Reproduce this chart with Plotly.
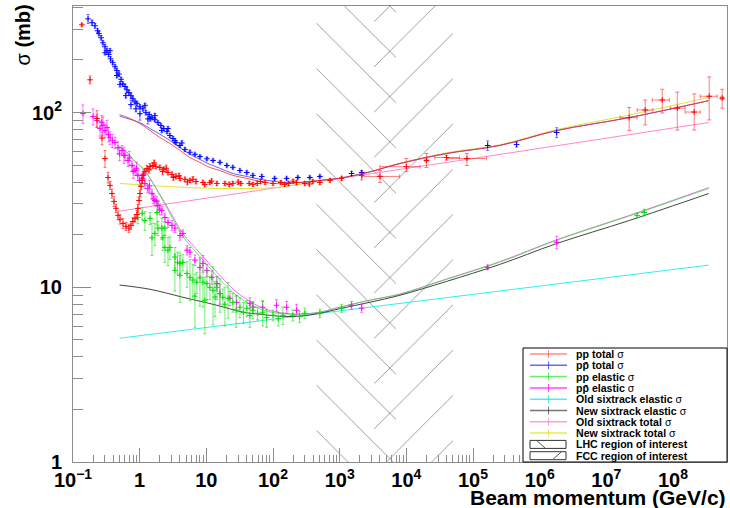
import plotly.graph_objects as go

# ---------------- data ----------------
# pp total cross section (red)
pp_tot_p = [0.136, 0.18, 0.229, 0.272, 0.302, 0.335, 0.359, 0.384, 0.412, 0.441,
            0.473, 0.507, 0.562, 0.624, 0.69, 0.74, 0.79, 0.85, 0.91, 0.94,
            0.98, 1.01, 1.05, 1.09, 1.12, 1.2, 1.29, 1.43, 1.58, 1.75,
            2.01, 2.3, 2.66, 3.05, 3.5, 4.02, 4.78, 5.68, 7.0, 8.9,
            11.3, 14.4, 19, 25, 33, 44, 58, 76, 100, 131,
            172, 226, 300, 395, 505, 717, 1070, 2140,
            1.38, 1.65, 2.2, 2.5, 3.2, 3.9, 5.2, 6.3, 9.5, 12, 22, 30, 50, 65, 150, 200, 350]
pp_tot_sig = [318, 154, 92.5, 71.4, 54.6, 42.5, 38.3, 34.4, 31.0, 28.3,
              25.8, 24.5, 23.2, 22.3, 21.8, 22.6, 23.8, 24.8, 26.1, 28.3,
              31.4, 34.4, 37.8, 40.9, 43.7, 46.0, 47.9, 49.1, 49.8, 49.1,
              48.5, 47.3, 45.4, 44.3, 43.1, 42.0, 41.5, 40.9, 40.3, 39.8,
              39.8, 39.3, 39.3, 39.3, 39.3, 39.3, 39.3, 39.8, 39.3, 39.8,
              39.3, 39.8, 39.3, 40.3, 39.8, 40.9, 42.0, 43.7,
              47, 51.5, 46, 48, 42.5, 43.5, 40, 41.5, 38.8, 40.5, 38.8, 40, 38.8, 40.3, 38.8, 40.5, 39]
pp_tot_err = [6, 8, 10, 6, 6, 3, 2, 2, 2, 1.5,
              1.5, 1.5, 1.5, 1.2, 1.2, 1.2, 1.2, 1.2, 1.5, 1.5,
              1.5, 1.5, 1.5, 1.5, 1.5, 1.5, 2, 2, 2, 1.5,
              1.5, 1.5, 1.5, 1.5, 1.5, 1.2, 1.2, 1.2, 1.2, 1.2,
              1.0, 1.0, 1.0, 1.0, 1.0, 1.0, 1.0, 1.0, 1.0, 1.0,
              1.0, 1.0, 1.0, 1.0, 1.0, 1.0, 1.2, 2.5,
              2, 2, 2, 2, 1.5, 1.5, 1.5, 1.5, 1.2, 1.2, 1.2, 1.2, 1, 1, 1, 1, 1]

# pp total, high-energy points with visible x/y ranges (red)
pp_hi_p = [4020, 1.0e4, 2.0e4, 4.0e4, 8.1e4, 2.2e7, 3.83e7, 6.9e7, 1.16e8, 2.08e8, 3.49e8, 5.47e8]
pp_hi_sig = [43.1, 49.0, 53.2, 55.3, 54.6, 93.6, 103.5, 118, 106, 100.7, 124, 121]
pp_hi_sig_up = [46.6, 54.6, 58.3, 57.0, 58.3, 107, 118, 136, 131, 128, 160, 136]
pp_hi_sig_lo = [39.8, 46.0, 48.5, 53.5, 49.8, 78.9, 84.9, 99.5, 79.4, 79.4, 90.7, 106]
pp_hi_p_lo = [2150, 4020, 1.9e4, 2.67e4, 4.0e4, 1.61e7, 2.9e7, 4.87e7, 9.1e7, 1.52e8, 2.56e8, 5.2e8]
pp_hi_p_hi = [7940, 1.6e4, 2.1e4, 6.3e4, 1.6e5, 2.9e7, 5.0e7, 8.8e7, 1.52e8, 2.56e8, 4.6e8, 5.7e8]

# pbar-p total cross section (blue)
ppb_tot_p = [0.168, 0.193, 0.214, 0.234, 0.245, 0.264, 0.281, 0.302, 0.323, 0.343,
             0.366, 0.394, 0.427, 0.455, 0.49, 0.526, 0.56, 0.603, 0.645, 0.69,
             0.74, 0.79, 0.85, 0.91, 1.01, 1.12, 1.24, 1.39, 1.53, 1.69,
             1.88, 2.08, 2.3, 2.57, 2.84, 3.16, 3.5, 4.02, 4.78, 5.68,
             6.75, 8.02, 10.2, 12.6, 16, 20.3, 25, 31.9, 40.5, 50,
             68, 106, 160, 236, 357, 505, 1510, 2140, 1.66e5, 4.5e5, 1.8e6,
             0.302, 0.359, 0.455, 0.507, 0.62, 0.74, 0.88, 1.01, 1.2, 1.33,
             1.43, 1.69, 2.15, 2.66, 3.38, 4.3]
ppb_tot_sig = [344, 327, 314, 294, 283, 268, 251, 238, 226, 215,
               203, 193, 183, 174, 166, 155, 146, 141, 135, 130,
               125, 120, 115, 113, 108, 105, 99.9, 97.6, 93.5, 91,
               87.6, 84.3, 81, 77.8, 73.9, 71, 67.3, 64.8, 61.5, 59.3,
               57.7, 56, 54.4, 53.2, 51.9, 49.8, 48.6, 46.6, 45.4, 43.7,
               43.1, 42, 42, 42.5, 42.5, 43.1, 44.8, 45.4, 64.8, 65.6, 76.9,
               220, 226, 163, 145, 125, 111, 105, 98.5, 110, 92,
               92.3, 96, 79, 81, 69, 67]
ppb_tot_err = [20, 12, 10, 8, 8, 8, 7, 7, 6, 6,
               6, 5, 5, 5, 5, 4, 4, 4, 4, 4,
               4, 3, 3, 3, 3, 3, 3, 3, 2, 2,
               2, 2, 2, 2, 2, 2, 1.5, 1.5, 1.5, 1.5,
               1, 1, 1, 1, 1, 1, 1, 1, 1, 1,
               1, 0.8, 0.8, 0.8, 0.8, 0.8, 1.2, 1.2, 4, 2, 5,
               6, 6, 5, 5, 4, 6, 4, 8, 3, 6,
               3, 3, 2, 2, 2, 2]

# pp elastic cross section (green)
pp_el_p = [0.94, 1.09, 1.2, 1.43, 1.53, 1.69, 1.82, 1.88, 2.15, 2.23,
           2.39, 2.66, 2.84, 3.38, 4.02, 4.45, 4.02, 5.13, 5.68, 6.28,
           7.2, 8.02, 8.9, 10.2, 11.3, 12.6, 14.4, 16, 17.7, 21.2,
           25, 31.9, 40.5, 50, 58.8, 70, 100, 141, 198, 300,
           505, 1070, 2.9e7, 3.7e7,
           2.39, 3.38, 3.7, 6.75, 9.5, 13.5, 19, 28, 36, 45, 80, 120, 250]
pp_el_sig = [25.1, 26.5, 24.1, 24.8, 19.2, 20.3, 26.8, 21.8, 21.8, 19.2,
             21.8, 16.3, 16.9, 14.9, 13.7, 13.9, 11.7, 12.0, 11.4, 11.0,
             10.7, 11.3, 10.7, 10.5, 10.0, 9.6, 10.0, 9.2, 8.77, 8.65,
             8.2, 7.69, 7.58, 7.39, 7.1, 7.2, 6.92, 6.92, 6.92, 7.1,
             7.1, 7.59, 25.8, 26.8,
             16.9, 12.5, 13.9, 8.9, 8.43, 8.8, 8.0, 7.4, 7.2, 6.9, 6.7, 6.6, 6.8]
pp_el_err = [2, 2, 3, 2, 4, 3, 4, 2, 3, 3,
             2, 3, 2.5, 2, 2, 1.5, 3.5, 2, 3, 2.5,
             1.5, 3.5, 3, 2, 1.5, 3.5, 1.5, 2, 1, 2,
             1, 1, 0.8, 0.8, 0.6, 1.2, 0.5, 0.8, 0.5, 0.5,
             0.4, 0.4, 0.8, 1.2,
             3, 3, 2, 3, 3, 2, 2, 1.5, 1, 1, 0.8, 0.6, 0.5]

# pbar-p elastic cross section (magenta)
ppb_el_p = [0.141, 0.229, 0.254, 0.281, 0.302, 0.323, 0.359, 0.427, 0.473, 0.544,
            0.603, 0.668, 0.767, 0.851, 0.94, 1.08, 1.2, 1.33, 1.53, 1.69,
            1.88, 2.15, 2.39, 2.66, 3.05, 3.38, 4.02, 4.45, 5.13, 5.68,
            6.75, 8.02, 8.9, 10.2, 12.1, 14.4, 16, 22.6, 28.5, 45.1,
            50, 70, 113, 160, 226, 1510, 2140, 1.66e5, 1.8e6,
            0.2, 0.27, 0.34, 0.39, 0.5, 0.58, 0.7, 0.8, 0.9, 1.0,
            1.15, 1.4, 1.6, 1.8, 2.0]
ppb_el_sig = [98.7, 90, 81.2, 84.3, 78.9, 82.3, 71.7, 67.3, 63, 60.7,
              56.8, 53.2, 49.8, 46.6, 43.7, 42, 39.3, 36.7, 34.4, 31.4,
              29.4, 27.5, 25.1, 23.5, 22.6, 21.8, 19.8, 20.3, 16.3, 15.9,
              14.3, 13, 13.7, 12.5, 11.4, 10.5, 9.2, 8.65, 8.2, 8.1,
              7.69, 7.69, 7.89, 7.69, 7.39, 7.89, 7.59, 13, 18.1,
              95, 88, 75, 69, 58, 57, 55, 46, 48, 41,
              44, 38, 32, 31, 28]
ppb_el_err = [12, 8, 8, 10, 7, 8, 6, 5, 5, 4,
              4, 4, 3, 3, 3, 2.5, 2.5, 2, 2, 2,
              2, 1.5, 1.5, 1.5, 1.5, 1.2, 1.2, 1, 1, 1,
              1, 1.5, 1.5, 1, 1, 1, 1.2, 0.8, 0.8, 0.6,
              0.6, 0.6, 0.6, 0.6, 0.6, 0.4, 0.4, 0.4, 1.5,
              10, 8, 7, 6, 5, 6, 5, 4, 4, 3,
              3, 3, 2, 2, 2]

# model curves
fit_p = [0.5, 0.668, 1.01, 1.43, 2.01, 2.84, 4.02, 5.68, 8.02, 11.3,
         16, 25, 40.5, 63.7, 100, 160, 253, 505, 1000, 2600,
         8000, 4.0e4, 2.5e5, 1.8e6, 2.2e7, 3.43e8]
fit_pp_tot = [97.4, 93.6, 86.5, 78.9, 72, 66.5, 60.7, 55.3, 51.8, 48.5,
              46.6, 43.7, 42, 40.4, 39.3, 39.3, 39.8, 40.9, 42, 45.4,
              51.2, 58.3, 64.8, 78.9, 93.6, 117]
fit_ppb_tot = [95.4, 92.3, 87.6, 81, 75.2, 69.2, 63, 57.7, 53.9, 50.5,
               48, 44.8, 43.1, 41.5, 40.5, 39.8, 39.8, 40.9, 42.2, 45.4,
               51, 58.3, 64.8, 78.9, 93.6, 117]

fit_el_p = [0.5, 0.668, 0.88, 1.12, 1.43, 2.01, 2.84, 4.45, 8.02, 14.4,
            25, 45.1, 81, 141, 253, 505, 1000, 2800, 8000, 4e4,
            2.5e5, 1.8e6, 2.9e7, 3.43e8]
fit_pp_el = [63.9, 58.3, 51.8, 47.9, 42, 33.6, 26.5, 19.6, 15, 11.6,
             9.36, 8.0, 7.29, 7.06, 7.02, 7.2, 7.69, 8.43, 9.12, 11.1,
             13.9, 18.6, 26.5, 36.8]
fit_ppb_el = [63.9, 58.3, 51.8, 47.9, 42, 34, 27.2, 20.3, 15.7, 12.2,
              9.8, 8.3, 7.45, 7.12, 7.02, 7.2, 7.69, 8.43, 9.15, 11.15,
              14.0, 18.7, 26.7, 37.2]

new_el_p = [0.5, 1.43, 4.45, 14.4, 35.6, 63.7, 127, 253, 505, 1000,
            2800, 8000, 4e4, 2.5e5, 1.8e6, 2.2e7, 3.43e8]
new_el_sig = [10.3, 9.74, 8.77, 7.89, 7.2, 7.01, 6.83, 6.83, 7.1, 7.54,
              8.2, 9.0, 10.8, 13.5, 17.8, 24.1, 34.4]

old_el_p = [0.5, 3.43e8]
old_el_sig = [5.11, 13.4]

new_tot_p = [0.5, 1.43, 5.68, 25, 100, 253, 505, 1000, 2600, 8000,
             4e4, 2.5e5, 1.8e6, 2.0e7, 3.43e8]
new_tot_sig = [39.3, 38.3, 37.2, 36.7, 37.2, 38.9, 40.4, 42, 45.4, 51.2,
               58.9, 65.4, 79.9, 96.1, 122]

old_tot_p = [0.5, 1.26e5, 3.43e8]
old_tot_sig = [27.3, 55.3, 87.7]

LHC_P = [450, 7000]
FCC_P = [3300, 50000]

x_tickvals = [1e-1, 1, 10, 1e2, 1e3, 1e4, 1e5, 1e6, 1e7, 1e8]
x_ticktext = ["10<sup>\u22121</sup>", "1", "10", "10<sup>2</sup>", "10<sup>3</sup>",
              "10<sup>4</sup>", "10<sup>5</sup>", "10<sup>6</sup>", "10<sup>7</sup>", "10<sup>8</sup>"]
y_tickvals = [1, 10, 100]
y_ticktext = ["1", "10", "10<sup>2</sup>"]

legend_names = ["pp total", "pp\u0304 total", "pp elastic", "pp\u0304 elastic",
                "Old sixtrack elastic", "New sixtrack elastic", "Old sixtrack total", "New sixtrack total"]

# ---------------- styling ----------------
RED, BLUE, GREEN, MAG = "#ff0000", "#0000ff", "#00dd00", "#ff00ff"
CYAN, BLACK, PINK, YEL = "#33eeee", "#444444", "#ff88cc", "#dde633"
LEG_COLORS = ["rgba(255,60,60,0.6)", "rgba(40,40,255,0.7)", "rgba(0,230,0,0.6)", "rgba(255,0,255,0.7)",
              "rgba(0,230,230,0.7)", "rgba(60,60,60,0.7)", "rgba(255,120,200,0.7)", "rgba(220,230,40,0.8)"]
X_LOG = [-1, 8.81]
Y_LOG = [0, 2.61]
AX = "#8c8c8c"
FONT = "Liberation Sans"

fig = go.Figure()


def hatch(prange, shape):
    lo, hi = prange
    return go.Scatter(x=[lo, hi, hi, lo, lo], y=[0.9, 0.9, 600, 600, 0.9], mode="lines",
                      fill="toself", fillcolor="rgba(0,0,0,0)",
                      line=dict(width=0, color="rgba(0,0,0,0)"),
                      fillpattern=dict(shape=shape, size=32, solidity=0.024, fgcolor="#000000"),
                      hoverinfo="skip", showlegend=False)


fig.add_trace(hatch(LHC_P, "\\"))
fig.add_trace(hatch(FCC_P, "/"))


def curve(p, s, color, width=1.0, smooth=True):
    return go.Scatter(x=p, y=s, mode="lines",
                      line=dict(color=color, width=width, shape="spline" if smooth else "linear"),
                      hoverinfo="skip", showlegend=False)


fig.add_trace(curve(old_el_p, old_el_sig, CYAN, smooth=False))
fig.add_trace(curve(old_tot_p, old_tot_sig, PINK, smooth=False))
fig.add_trace(curve(new_tot_p, new_tot_sig, YEL))
fig.add_trace(curve(fit_p, fit_ppb_tot, "rgba(60,60,255,0.8)"))
fig.add_trace(curve(fit_p, fit_pp_tot, "rgba(255,40,40,0.8)"))
fig.add_trace(curve(fit_el_p, fit_ppb_el, "rgba(255,60,255,0.8)"))
fig.add_trace(curve(fit_el_p, fit_pp_el, "rgba(60,230,60,0.8)"))
fig.add_trace(curve(new_el_p, new_el_sig, BLACK))


def data(p, s, e, color, ecolor):
    return go.Scatter(x=p, y=s, mode="markers",
                      marker=dict(symbol="cross-thin", size=4, color=color, line=dict(width=1.0, color=color)),
                      error_y=dict(type="data", array=e, color=ecolor, thickness=1, width=1.5),
                      hoverinfo="skip", showlegend=False)


fig.add_trace(data(ppb_el_p, ppb_el_sig, ppb_el_err, MAG, "rgba(255,0,255,0.55)"))
fig.add_trace(data(pp_el_p, pp_el_sig, pp_el_err, GREEN, "rgba(0,220,0,0.55)"))
fig.add_trace(data(ppb_tot_p, ppb_tot_sig, ppb_tot_err, BLUE, "rgba(0,0,255,0.55)"))
fig.add_trace(data(pp_tot_p, pp_tot_sig, pp_tot_err, RED, "rgba(255,0,0,0.55)"))

fig.add_trace(go.Scatter(
    x=pp_hi_p, y=pp_hi_sig, mode="markers",
    marker=dict(symbol="cross-thin", size=4, color=RED, line=dict(width=1.0, color=RED)),
    error_y=dict(type="data", symmetric=False,
                 array=[u - s for u, s in zip(pp_hi_sig_up, pp_hi_sig)],
                 arrayminus=[s - l for s, l in zip(pp_hi_sig, pp_hi_sig_lo)],
                 color="rgba(255,40,40,0.6)", thickness=1, width=2),
    error_x=dict(type="data", symmetric=False,
                 array=[h - p for h, p in zip(pp_hi_p_hi, pp_hi_p)],
                 arrayminus=[p - l for p, l in zip(pp_hi_p, pp_hi_p_lo)],
                 color="rgba(255,40,40,0.6)", thickness=1, width=2),
    hoverinfo="skip", showlegend=False))

# ---------------- frame / custom ROOT-like legend ----------------
L, R, T, B = 73, 727, 6, 462


def fx(x):
    return (x - L) / (R - L)


def fy(y):
    return (B - y) / (B - T)


shapes = [dict(type="rect", xref="paper", yref="paper", x0=fx(523), x1=fx(727), y0=fy(462), y1=fy(348),
               line=dict(color="black", width=1), fillcolor="white", layer="above")]
annotations = []
row0, dy = 354.0, 11.3
for i, (name, col) in enumerate(zip(legend_names, LEG_COLORS)):
    yy = row0 + i * dy
    shapes.append(dict(type="line", xref="paper", yref="paper", x0=fx(530), x1=fx(567), y0=fy(yy), y1=fy(yy),
                       line=dict(color=col, width=1.5), layer="above"))
    shapes.append(dict(type="line", xref="paper", yref="paper", x0=fx(548.5), x1=fx(548.5),
                       y0=fy(yy - 4), y1=fy(yy + 4), line=dict(color=col, width=1), layer="above"))
    annotations.append(dict(xref="paper", yref="paper", x=fx(574), y=fy(yy), xanchor="left", yanchor="middle",
                            text=name + " <span style='font-weight:normal'>\u03c3</span>", showarrow=False,
                            font=dict(family=FONT, size=10.6, color="black", weight="bold")))
for j, (name, slash) in enumerate([("LHC region of interest", "\\"), ("FCC region of interest", "/")]):
    yy = row0 + (8 + j) * dy
    shapes.append(dict(type="rect", xref="paper", yref="paper", x0=fx(530), x1=fx(566), y0=fy(yy + 4),
                       y1=fy(yy - 4), line=dict(color="#333333", width=1), fillcolor="white", layer="above"))
    if slash == "\\":
        sx0, sy0, sx1, sy1 = 537, yy - 3.5, 545, yy + 3.5
    else:
        sx0, sy0, sx1, sy1 = 553, yy + 3.5, 561, yy - 3.5
    shapes.append(dict(type="line", xref="paper", yref="paper", x0=fx(sx0), x1=fx(sx1), y0=fy(sy0), y1=fy(sy1),
                       line=dict(color="#555555", width=1), layer="above"))
    annotations.append(dict(xref="paper", yref="paper", x=fx(574), y=fy(yy), xanchor="left", yanchor="middle",
                            text=name, showarrow=False,
                            font=dict(family=FONT, size=10.6, color="black", weight="bold")))

annotations.append(dict(xref="paper", yref="paper", x=fx(728), y=fy(497), xanchor="right", yanchor="middle",
                        text="Beam momentum (GeV/c)", showarrow=False,
                        font=dict(family=FONT, size=21, color="black", weight="bold")))
annotations.append(dict(xref="paper", yref="paper", x=fx(22), y=fy(3), xanchor="center", yanchor="top",
                        textangle=-90, text="<span style='font-weight:normal'>\u03c3</span> (mb)", showarrow=False,
                        font=dict(family=FONT, size=20, color="black", weight="bold")))

x_minor = [k * 10.0 ** d for d in range(-1, 9) for k in range(2, 10)]
y_minor = [k * 10.0 ** d for d in range(0, 3) for k in range(2, 10)]

tickfont = dict(family=FONT, size=20, color="black", weight="bold")
fig.update_layout(
    width=730, height=508,
    margin=dict(l=L, r=730 - R, t=T, b=508 - B),
    paper_bgcolor="white", plot_bgcolor="white",
    showlegend=False,
    shapes=shapes, annotations=annotations,
    xaxis=dict(type="log", range=X_LOG, tickmode="array", tickvals=x_tickvals, ticktext=x_ticktext,
               ticks="inside", ticklen=14, tickwidth=1, tickcolor=AX, showline=True, linecolor=AX,
               linewidth=1, mirror=True, showgrid=False, zeroline=False, tickfont=tickfont,
               ticklabelstandoff=0,
               minor=dict(tickmode="array", tickvals=x_minor, ticks="inside", ticklen=7, tickcolor=AX,
                          tickwidth=1, showgrid=False)),
    yaxis=dict(type="log", range=Y_LOG, tickmode="array", tickvals=y_tickvals, ticktext=y_ticktext,
               ticks="inside", ticklen=18, tickwidth=1, tickcolor=AX, showline=True, linecolor=AX,
               linewidth=1, mirror=True, showgrid=False, zeroline=False, tickfont=tickfont,
               ticklabelstandoff=6,
               minor=dict(tickmode="array", tickvals=y_minor, ticks="inside", ticklen=10, tickcolor=AX,
                          tickwidth=1, showgrid=False)),
)

fig.write_html("out.html")
